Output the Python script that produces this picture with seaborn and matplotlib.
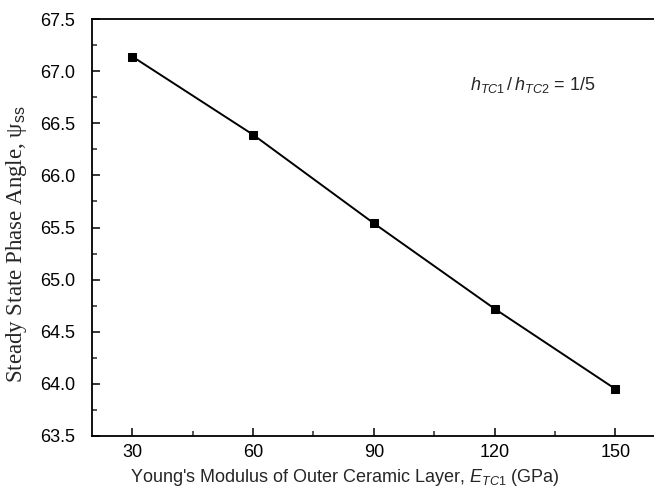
import matplotlib
matplotlib.use("Agg")
import matplotlib.pyplot as plt
import seaborn as sns
import pandas as pd
from matplotlib.ticker import MultipleLocator

modulus = [30, 60, 90, 120, 150]
phase_angle = [67.14, 66.39, 65.54, 64.72, 63.95]
x_ticks = [30, 60, 90, 120, 150]
y_ticks = [63.5, 64.0, 64.5, 65.0, 65.5, 66.0, 66.5, 67.0, 67.5]

sns.set_style("ticks")
plt.rcParams['font.family'] = ['Liberation Sans', 'DejaVu Sans']
plt.rcParams['mathtext.fontset'] = 'custom'
plt.rcParams['mathtext.rm'] = 'Liberation Sans'
plt.rcParams['mathtext.it'] = 'Liberation Sans:italic'

df = pd.DataFrame({"E": modulus, "psi": phase_angle})

fig = plt.figure(figsize=(6.54, 5.0), dpi=100)
ax = fig.add_axes([0.1407, 0.128, 0.862, 0.834])

sns.lineplot(data=df, x="E", y="psi", ax=ax, color="black", linewidth=1.4,
             marker="s", markersize=6, markeredgecolor="black", markerfacecolor="black")

ax.set_xlim(20, 160)
ax.set_ylim(63.5, 67.5)
ax.set_xticks(x_ticks)
ax.set_yticks(y_ticks)
ax.set_yticklabels([f"{v:.1f}" for v in y_ticks])
ax.xaxis.set_minor_locator(MultipleLocator(15))
ax.yaxis.set_minor_locator(MultipleLocator(0.25))
ax.tick_params(which='major', direction='in', length=6, width=1.1, labelsize=13, colors='black')
ax.tick_params(axis='y', which='major', pad=12)
ax.tick_params(axis='x', which='major', pad=6)
ax.tick_params(which='minor', direction='in', length=3.5, width=1.1)
for s in ax.spines.values():
    s.set_visible(True)
    s.set_linewidth(1.3)
    s.set_color('black')

ax.set_xlabel(r"Young's Modulus of Outer Ceramic Layer, $E_{TC1}$ (GPa)", fontsize=13)
ax.xaxis.set_label_coords(0.449, -0.075)
ax.set_ylabel(r"Steady State Phase Angle, ψ$_{\mathrm{ss}}$", fontsize=16.5,
              family=['Liberation Serif', 'DejaVu Serif'])
ax.yaxis.set_label_coords(-0.112, 0.46)

ax.text(0.67, 0.83, r"$h_{TC1}\,/\,h_{TC2}$ = 1/5", transform=ax.transAxes, fontsize=13)

fig.savefig("out.png", dpi=100)
